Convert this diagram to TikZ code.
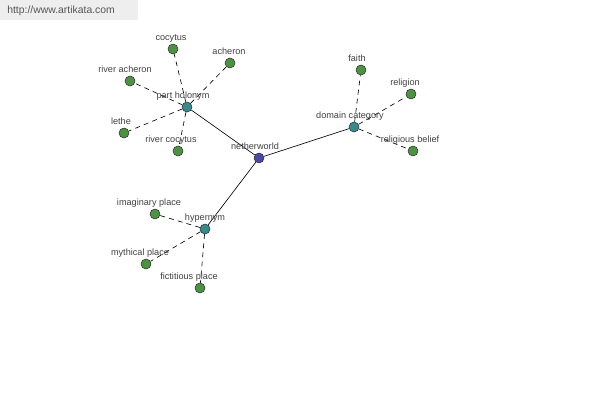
\documentclass[tikz,border=0pt]{standalone}
\usepackage{fontspec}
\setmainfont{Liberation Sans}
\usepackage{xcolor}
\definecolor{cRoot}{HTML}{4848A8}
\definecolor{cHub}{HTML}{368C8C}
\definecolor{cLeaf}{HTML}{4A9440}
\definecolor{ink}{HTML}{404040}
\definecolor{wmfill}{HTML}{EEEEEE}
\definecolor{wmink}{HTML}{555555}
\usetikzlibrary{positioning}

\begin{document}
\begin{tikzpicture}[x=0.025cm,y=-0.025cm,
  font=\fontsize{6.5}{7}\selectfont,
  dot/.style={circle,draw=black!80,line width=0.4pt,minimum size=0.25cm,inner sep=0pt},
  root/.style={dot,fill=cRoot},
  hub/.style={dot,fill=cHub},
  leaf/.style={dot,fill=cLeaf},
  lbl/.style={text=ink,inner sep=0pt,anchor=base},
  link/.style={black,line width=0.45pt},
  sub/.style={black,line width=0.45pt,dash pattern=on 3.5pt off 3pt}]
\useasboundingbox (0,0) rectangle (600,400);
% watermark
\fill[wmfill] (0,0) rectangle (138,20);
\node[text=wmink,font=\fontsize{7.4}{8}\selectfont,anchor=west,inner sep=0pt] (site) at (7,11) {http://www.artikata.com};
% centre and hubs
\node[root] (nether) at (259,158) {};
\node[hub] (holo) at (187,107) {};
\node[hub] (domain) at (354,127) {};
\node[hub] (hyper) at (205,229) {};
\draw[link] (nether) -- (holo);
\draw[link] (nether) -- (domain);
\draw[link] (nether) -- (hyper);
% leaves: name/x/y/hub/text/label shift
\foreach \n/\x/\y/\h/\t/\d in {
  cocytus/173/49/holo/cocytus/-2,
  acheron/230/63/holo/acheron/-1,
  racheron/130/81/holo/river acheron/-5,
  lethe/124/133/holo/lethe/-3,
  rcocytus/178/151/holo/river cocytus/-7,
  faith/361/70/domain/faith/-4,
  religion/411/94/domain/religion/-6,
  belief/413/151/domain/religious belief/-3,
  imag/155/214/hyper/imaginary place/-6,
  myth/146/264/hyper/mythical place/-6,
  fict/200/288/hyper/fictitious place/-11}{
  \node[leaf] (\n) at (\x,\y) {};
  \draw[sub] (\h) -- (\n);
  \node[lbl] (\n-t) at (\x+\d,\y-8) {\t};
}
% hub labels
\node[lbl] (nether-t) at (255,150) {netherworld};
\node[lbl] (holo-t) at (183,99) {part holonym};
\node[lbl] (domain-t) at (350,119) {domain category};
\node[lbl] (hyper-t) at (205,221) {hypernym};
\end{tikzpicture}
\end{document}
